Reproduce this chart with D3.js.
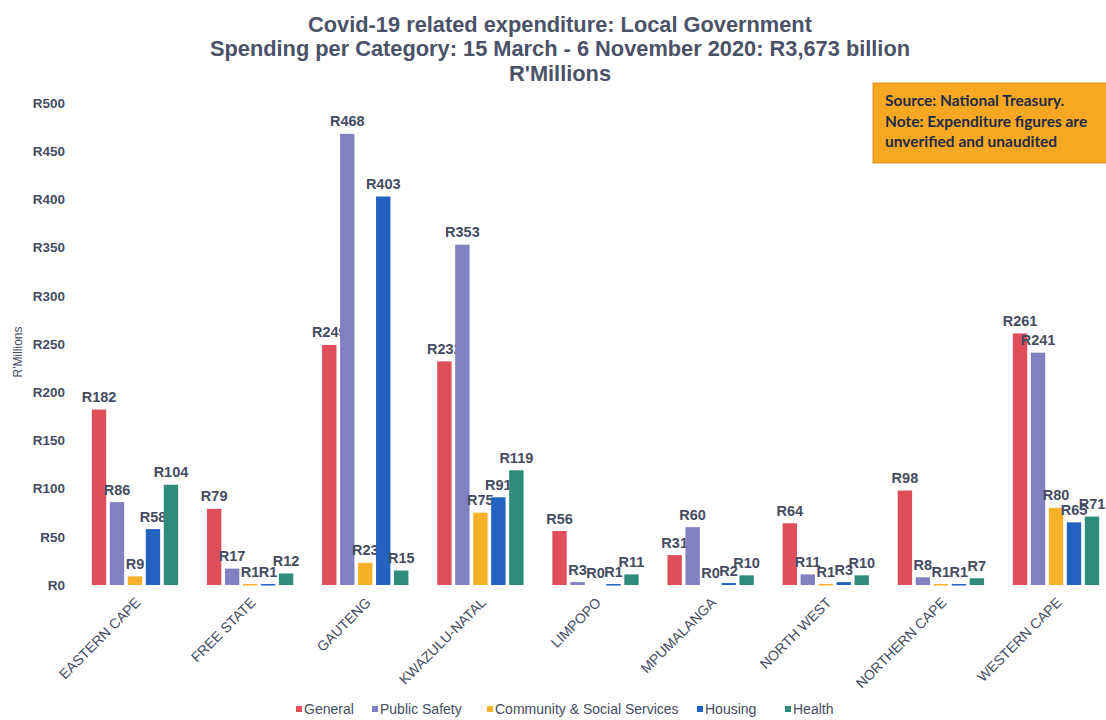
<!DOCTYPE html>
<html>
<head>
<meta charset="utf-8">
<script src="https://cdn.jsdelivr.net/npm/d3@7"></script>
<style>
  html, body { margin: 0; padding: 0; background: #ffffff; }
  svg { display: block; font-family: "Liberation Sans", Arial, sans-serif; }
</style>
</head>
<body>
<svg id="chart" width="1106" height="720"></svg>
<script>
// Provinces along the x axis
const provinces = ["EASTERN CAPE", "FREE STATE", "GAUTENG", "KWAZULU-NATAL", "LIMPOPO",
  "MPUMALANGA", "NORTH WEST", "NORTHERN CAPE", "WESTERN CAPE"];

// Spending categories (legend order)
const categories = ["General", "Public Safety", "Community & Social Services", "Housing", "Health"];
const colors = ["#df4f5a", "#8181c1", "#f6b128", "#2462c2", "#2f8c7b"];

// R'Millions per province, one array per category
const general        = [182, 79, 249, 232, 56, 31, 64, 98, 261];
const publicSafety   = [86, 17, 468, 353, 3, 60, 11, 8, 241];
const communitySocial = [9, 1, 23, 75, 0, 0, 1, 1, 80];
const housing        = [58, 1, 403, 91, 1, 2, 3, 1, 65];
const health         = [104, 12, 15, 119, 11, 10, 10, 7, 71];

const seriesValues = [general, publicSafety, communitySocial, housing, health];

const yTicks = [0, 50, 100, 150, 200, 250, 300, 350, 400, 450, 500];

const titleLines = [
  "Covid-19 related expenditure: Local Government",
  "Spending per Category: 15 March - 6 November 2020: R3,673 billion",
  "R'Millions"
];
const noteLines = [
  "Source: National Treasury.",
  "Note: Expenditure figures are",
  "unverified and unaudited"
];

const textColor = "#454c62";
const svg = d3.select("#chart");

// Scales
const x0 = d3.scaleBand().domain(provinces).range([78, 1113]).paddingInner(0.25).paddingOuter(0.12);
const x1 = d3.scaleBand().domain(d3.range(categories.length)).range([0, x0.bandwidth()]).paddingInner(0.2);
const y = d3.scaleLinear().domain([0, 500]).range([585, 103]);

// Title
svg.append("g").selectAll("text").data(titleLines).join("text")
  .attr("x", 560).attr("y", (d, i) => 31.5 + i * 24.5)
  .attr("text-anchor", "middle")
  .attr("font-size", 21.8).attr("font-weight", "bold")
  .attr("fill", "#4b5268")
  .text(d => d);

// Y axis (labels only)
const yAxis = d3.axisLeft(y).tickValues(yTicks).tickFormat(d => "R" + d).tickSize(0).tickPadding(0);
const yg = svg.append("g").attr("transform", "translate(65,0)").call(yAxis);
yg.select(".domain").remove();
yg.selectAll("text").attr("font-size", 13.5).attr("font-weight", "bold").attr("fill", textColor)
  .attr("font-family", "Liberation Sans, Arial, sans-serif");

svg.append("text")
  .attr("transform", "translate(22,352) rotate(-90)")
  .attr("text-anchor", "middle")
  .attr("font-size", 12).attr("fill", textColor)
  .text("R'Millions");

// X axis (rotated labels)
const xAxis = d3.axisBottom(x0).tickSize(0).tickPadding(0);
const xg = svg.append("g").attr("transform", "translate(0,600)").call(xAxis);
xg.select(".domain").remove();
xg.selectAll("text")
  .attr("font-size", 14).attr("fill", textColor)
  .attr("font-family", "Liberation Sans, Arial, sans-serif")
  .attr("text-anchor", "end")
  .attr("dy", "0.35em")
  .attr("transform", "translate(3,0) rotate(-45)");

// Bars
const groups = svg.append("g").selectAll("g").data(provinces).join("g")
  .attr("transform", d => `translate(${x0(d)},0)`);

const cells = groups.selectAll("g.cell")
  .data((p, pi) => seriesValues.map((vals, si) => ({ si, v: vals[pi] })))
  .join("g").attr("class", "cell");

cells.append("rect")
  .attr("x", d => x1(d.si))
  .attr("y", d => y(d.v))
  .attr("width", x1.bandwidth())
  .attr("height", d => Math.max(y(0) - y(d.v), d.v === 0 ? 0 : 1.5))
  .attr("fill", d => colors[d.si]);

cells.append("text")
  .attr("x", d => x1(d.si) + x1.bandwidth() / 2)
  .attr("y", d => y(d.v) - 7.5)
  .attr("text-anchor", "middle")
  .attr("font-size", 14.5).attr("font-weight", "bold")
  .attr("fill", textColor)
  .text(d => "R" + d.v);

// Note box
const note = svg.append("g").attr("transform", "translate(873,83)");
note.append("rect").attr("width", 240).attr("height", 80)
  .attr("fill", "#f7a823").attr("stroke", "#d99020").attr("stroke-width", 1);
note.selectAll("text").data(noteLines).join("text")
  .attr("x", 12).attr("y", (d, i) => 23 + i * 20.5)
  .attr("font-family", "Lato, 'Open Sans', sans-serif")
  .attr("font-size", 15.5).attr("font-weight", "bold")
  .attr("fill", "#1f2a44")
  .text(d => d);

// Legend
const legendX = [296, 372, 487, 697, 785];
const legend = svg.append("g").selectAll("g").data(categories).join("g")
  .attr("transform", (d, i) => `translate(${legendX[i]},713)`);
legend.append("rect").attr("x", 0).attr("y", -7).attr("width", 6).attr("height", 6)
  .attr("fill", (d, i) => colors[i]);
legend.append("text").attr("x", 8).attr("y", 0.5)
  .attr("font-size", 14).attr("fill", textColor)
  .text(d => d);
</script>
</body>
</html>
